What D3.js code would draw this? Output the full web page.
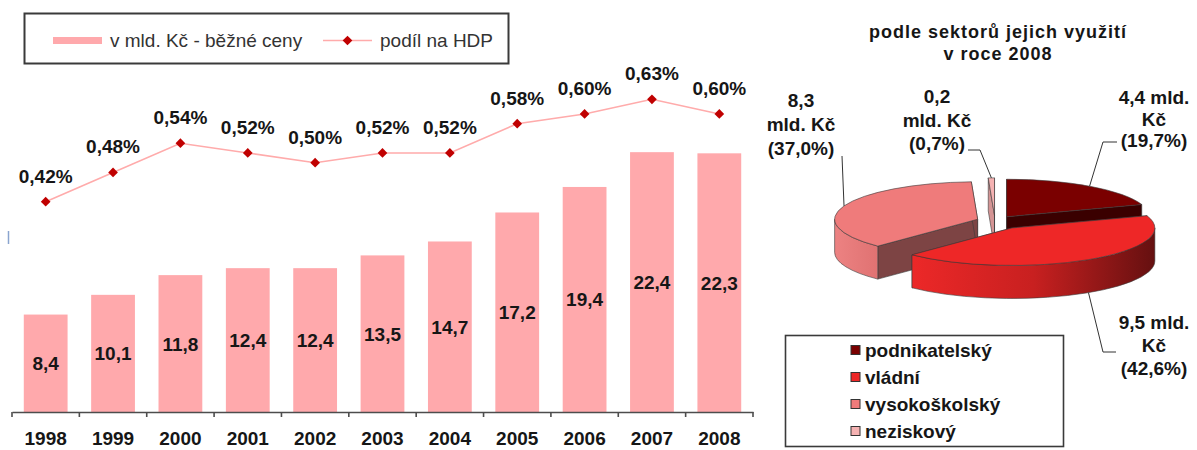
<!DOCTYPE html>
<html>
<head>
<meta charset="utf-8">
<script src="https://cdn.jsdelivr.net/npm/d3@7"></script>
<style>
  html, body { margin: 0; padding: 0; background: #fff; }
  svg { display: block; }
  text { font-family: "Liberation Sans", Arial, sans-serif; }
</style>
</head>
<body>
<div id="chart"></div>
<script>
// data
const years = ["1998", "1999", "2000", "2001", "2002", "2003", "2004", "2005", "2006", "2007", "2008"];
const spending = [8.4, 10.1, 11.8, 12.4, 12.4, 13.5, 14.7, 17.2, 19.4, 22.4, 22.3];   // mld. Kč
const gdpShare = [0.42, 0.48, 0.54, 0.52, 0.50, 0.52, 0.52, 0.58, 0.60, 0.63, 0.60];  // %
const seriesNames = ["v mld. Kč - běžné ceny", "podíl na HDP"];

const pieTitle = ["podle sektorů jejich využití", "v roce 2008"];
const sectors = ["podnikatelský", "vládní", "vysokoškolský", "neziskový"];
const sectorValues = [4.4, 9.5, 8.3, 0.2];      // mld. Kč
const sectorShares = [19.7, 42.6, 37.0, 0.7];   // %

const W = 1197, H = 450;
const textCol = "#161616";
const fmt = v => v.toFixed(1).replace(".", ",");
const fmtPct = v => v.toFixed(2).replace(".", ",") + "%";

const svg = d3.select("#chart").append("svg")
    .attr("width", W)
    .attr("height", H)
    .attr("viewBox", [0, 0, W, H]);

// ---------- left: bars + line ----------
const x = d3.scaleBand()
    .domain(years)
    .range([12, 753])
    .paddingInner(0.35)
    .paddingOuter(0.175);

const y = d3.scaleLinear().domain([0, 30]).range([412, 64]);
const y2 = d3.scaleLinear().domain([0, 0.7]).range([406.5, 65.2]);

// stray axis remnant at the left
svg.append("line")
    .attr("x1", 8.5).attr("x2", 8.5)
    .attr("y1", 231).attr("y2", 244)
    .attr("stroke", "#8aa4cf")
    .attr("stroke-width", 1.5);

svg.append("g")
    .attr("fill", "#ffa9ac")
    .selectAll("rect")
    .data(spending)
    .join("rect")
    .attr("x", (d, i) => x(years[i]))
    .attr("y", d => y(d))
    .attr("width", x.bandwidth())
    .attr("height", d => y(0) - y(d));

svg.append("g")
    .attr("font-size", "19px")
    .attr("font-weight", "bold")
    .attr("fill", textCol)
    .attr("text-anchor", "middle")
    .selectAll("text")
    .data(spending)
    .join("text")
    .attr("x", (d, i) => x(years[i]) + x.bandwidth() / 2)
    .attr("y", d => (y(d) + y(0)) / 2 + 7)
    .text(d => fmt(d));

// x axis
const xAxis = d3.axisBottom(x).tickSize(0).tickPadding(20);
const gx = svg.append("g")
    .attr("transform", `translate(0,${y(0)})`)
    .call(xAxis);
gx.select(".domain").attr("stroke", "#4d4d4d").attr("stroke-width", 1.6);
gx.selectAll(".tick text")
    .attr("font-family", "Liberation Sans, Arial, sans-serif")
    .attr("font-size", "19px")
    .attr("font-weight", "bold")
    .attr("fill", textCol);

// boundary ticks between categories
gx.append("g")
    .selectAll("line")
    .data(d3.range(years.length + 1))
    .join("line")
    .attr("x1", i => x.range()[0] + i * x.step())
    .attr("x2", i => x.range()[0] + i * x.step())
    .attr("y1", 0).attr("y2", 5)
    .attr("stroke", "#4d4d4d")
    .attr("stroke-width", 1.6);

// line series
const cx = (d, i) => x(years[i]) + x.bandwidth() / 2;
const line = d3.line().x(cx).y(d => y2(d));

svg.append("path")
    .datum(gdpShare)
    .attr("fill", "none")
    .attr("stroke", "#ffabab")
    .attr("stroke-width", 1.6)
    .attr("d", line);

const diamond = d3.symbol().type(d3.symbolDiamond2).size(60);

svg.append("g")
    .attr("fill", "#c00000")
    .selectAll("path")
    .data(gdpShare)
    .join("path")
    .attr("transform", (d, i) => `translate(${cx(d, i)},${y2(d)})`)
    .attr("d", diamond);

svg.append("g")
    .attr("font-size", "19px")
    .attr("font-weight", "bold")
    .attr("fill", textCol)
    .attr("text-anchor", "middle")
    .selectAll("text")
    .data(gdpShare)
    .join("text")
    .attr("x", cx)
    .attr("y", d => y2(d) - 19)
    .text(fmtPct);

// legend
const lg = svg.append("g");
lg.append("rect")
    .attr("x", 24.5).attr("y", 13.5)
    .attr("width", 484).attr("height", 50)
    .attr("fill", "#fff")
    .attr("stroke", "#3a3a3a")
    .attr("stroke-width", 2);
lg.append("line")
    .attr("x1", 53).attr("x2", 102)
    .attr("y1", 40.5).attr("y2", 40.5)
    .attr("stroke", "#ffa9ac")
    .attr("stroke-width", 7);
lg.append("line")
    .attr("x1", 323).attr("x2", 372)
    .attr("y1", 40.5).attr("y2", 40.5)
    .attr("stroke", "#ffabab")
    .attr("stroke-width", 1.6);
lg.append("path")
    .attr("transform", "translate(347.5,40.5)")
    .attr("d", diamond)
    .attr("fill", "#c00000");
lg.selectAll("text")
    .data(seriesNames)
    .join("text")
    .attr("x", (d, i) => i === 0 ? 110 : 380)
    .attr("y", 47)
    .attr("font-size", "19px")
    .attr("fill", "#333")
    .text(d => d);

// ---------- right: 3D pie ----------
svg.append("g")
    .attr("font-size", "18px")
    .attr("font-weight", "bold")
    .attr("letter-spacing", "1px")
    .attr("fill", textCol)
    .attr("text-anchor", "middle")
    .selectAll("text")
    .data(pieTitle)
    .join("text")
    .attr("x", 998)
    .attr("y", (d, i) => 37.5 + i * 22.5)
    .text(d => d);

const PC = [995, 221], RX = 143, RY = 37.5, DEPTH = 33;
const style = [
    { top: "#7a0000", side: "#3a0000", wall: ["#5c0000", "#3a0000"], explode: 0.14 },
    { top: "#ee2727", side: "#8a1414", wall: ["#ec2828", "#c82020", "#651010"], explode: 0.22 },
    { top: "#ef7b7b", side: "#7d4444", wall: ["#ed8282", "#e67a7a", "#e07272"], explode: 0.13 },
    { top: "#f5b2b2", side: "#d49494", wall: ["#f0a8a8", "#d89090"], explode: 0.15 }
];

const arcs = d3.pie().sort(null).value(d => d)(sectorShares);

const slices = arcs.map((a, i) => {
    const mid = (a.startAngle + a.endAngle) / 2;
    const e = style[i].explode;
    const c = [PC[0] + e * RX * Math.sin(mid), PC[1] - e * RY * Math.cos(mid)];
    return { i, a0: a.startAngle, a1: a.endAngle, mid, c };
});

const pt = (c, a, dy = 0) => [c[0] + RX * Math.sin(a), c[1] - RY * Math.cos(a) + dy];

function topPath(s) {
    const p0 = pt(s.c, s.a0), p1 = pt(s.c, s.a1);
    const large = s.a1 - s.a0 > Math.PI ? 1 : 0;
    return `M${s.c}L${p0}A${RX},${RY} 0 ${large} 1 ${p1}Z`;
}
function facePath(s, a) {
    const p = pt(s.c, a), pd = pt(s.c, a, DEPTH);
    return `M${s.c}L${p}L${pd}L${s.c[0]},${s.c[1] + DEPTH}Z`;
}
function wallRange(s) {
    return [Math.max(s.a0, Math.PI / 2), Math.min(s.a1, 3 * Math.PI / 2)];
}
function wallPath(s) {
    const [b0, b1] = wallRange(s);
    if (b1 <= b0) return null;
    const p0 = pt(s.c, b0), p1 = pt(s.c, b1);
    const q0 = pt(s.c, b0, DEPTH), q1 = pt(s.c, b1, DEPTH);
    return `M${p0}A${RX},${RY} 0 0 1 ${p1}L${q1}A${RX},${RY} 0 0 0 ${q0}Z`;
}

const defs = svg.append("defs");
const pie = svg.append("g").attr("stroke", "#3b3b3b").attr("stroke-width", 0.6).attr("stroke-linejoin", "round");

slices.slice().sort((a, b) => -Math.cos(a.mid) + Math.cos(b.mid)).forEach(s => {
    const st = style[s.i];
    const g = pie.append("g");
    g.append("path").attr("d", facePath(s, s.a0)).attr("fill", st.side);
    g.append("path").attr("d", facePath(s, s.a1)).attr("fill", st.side);
    const wp = wallPath(s);
    if (wp) {
        const [b0, b1] = wallRange(s);
        const xs = [pt(s.c, b0)[0], pt(s.c, b1)[0]];
        const gid = "wall" + s.i;
        // shade from the left end of the wall towards its right end
        const grad = defs.append("linearGradient")
            .attr("id", gid)
            .attr("gradientUnits", "userSpaceOnUse")
            .attr("x1", d3.min(xs)).attr("x2", d3.max(xs))
            .attr("y1", 0).attr("y2", 0);
        st.wall.forEach((c, k) => {
            grad.append("stop")
                .attr("offset", k / (st.wall.length - 1))
                .attr("stop-color", c);
        });
        g.append("path").attr("d", wp).attr("fill", `url(#${gid})`);
    }
    g.append("path").attr("d", topPath(s)).attr("fill", st.top);
});

// data labels with leader lines
const labelLayout = [
    { x: 1154, y: 104, gap: 21.5, split: "after", anchor: "top", elbow: [[1103, 142], [1117, 142]] },
    { x: 1154, y: 329, gap: 23, split: "after", anchor: "bottom", elbow: [[1103, 352], [1116, 352]] },
    { x: 801, y: 107, gap: 24, split: "before", anchor: "top", elbow: [[842, 156]] },
    { x: 937, y: 103, gap: 23.5, split: "before", anchor: "top", elbow: [[980, 150], [968, 150]] }
];

const labels = svg.append("g");
slices.forEach(s => {
    const L = labelLayout[s.i];
    const v = fmt(sectorValues[s.i]);
    const lines = L.split === "after"
        ? [v + " mld.", "Kč", "(" + fmt(sectorShares[s.i]) + "%)"]
        : [v, "mld. Kč", "(" + fmt(sectorShares[s.i]) + "%)"];
    const start = pt(s.c, s.mid, L.anchor === "bottom" ? DEPTH : 0);
    labels.append("path")
        .attr("d", d3.line()([start, ...L.elbow]))
        .attr("fill", "none")
        .attr("stroke", "#333")
        .attr("stroke-width", 1);
    labels.append("g")
        .attr("font-size", "19px")
        .attr("font-weight", "bold")
        .attr("fill", textCol)
        .attr("text-anchor", "middle")
        .selectAll("text")
        .data(lines)
        .join("text")
        .attr("x", L.x)
        .attr("y", (d, k) => L.y + k * L.gap)
        .text(d => d);
});

// pie legend
const pl = svg.append("g");
pl.append("rect")
    .attr("x", 785.5).attr("y", 335.5)
    .attr("width", 278).attr("height", 111)
    .attr("fill", "#fff")
    .attr("stroke", "#3a3a3a")
    .attr("stroke-width", 1.6);
const items = pl.selectAll("g")
    .data(sectors)
    .join("g")
    .attr("transform", (d, i) => `translate(851,${350 + i * 27})`);
items.append("rect")
    .attr("x", 0).attr("y", -4.5)
    .attr("width", 9).attr("height", 9)
    .attr("fill", (d, i) => style[i].top)
    .attr("stroke", "#333")
    .attr("stroke-width", 1);
items.append("text")
    .attr("x", 14)
    .attr("y", 7)
    .attr("font-size", "19px")
    .attr("font-weight", "bold")
    .attr("fill", textCol)
    .text(d => d);
</script>
</body>
</html>
